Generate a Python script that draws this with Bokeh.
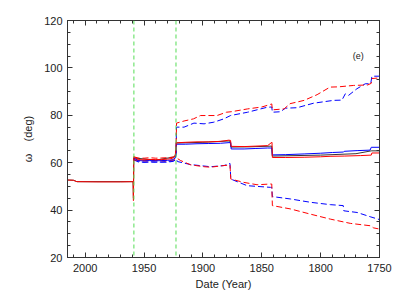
from bokeh.plotting import figure
from bokeh.models import Range1d, FixedTicker, LinearAxis, Span, Label
from bokeh.embed import file_html
from bokeh.resources import INLINE

# ---- data ----
x_ticks = [2000, 1950, 1900, 1850, 1800, 1750]
y_ticks = [20, 40, 60, 80, 100, 120]
event_years = [1958.6, 1922.85]
panel_tag = "(e)"

black_yr = [2015, 2010, 2007, 1959.3, 1959.0, 1958.7, 1940, 1923.5, 1922.6, 1900, 1877, 1876.2, 1860, 1841.5, 1841.1, 1800, 1770, 1757, 1750]
black_w = [52.7, 52.6, 52.0, 52.0, 45.0, 62.0, 61.1, 62.5, 68.3, 68.6, 69.2, 66.6, 66.7, 67.0, 62.8, 63.2, 63.8, 65.0, 65.0]

red_yr = [2015, 2010, 2007, 1990, 1970, 1959.3, 1959.0, 1958.7, 1955, 1950, 1945, 1940, 1935, 1930, 1926,
          1923.5, 1923.0, 1922.6, 1915, 1905, 1895, 1885, 1878, 1876.5, 1876.0, 1865, 1855, 1845, 1842.0,
          1841.3, 1841.0, 1830, 1814, 1800, 1792, 1780, 1766, 1757, 1756.5, 1750]
red_w = [52.7, 52.6, 52.0, 51.9, 51.9, 52.0, 44.0, 62.5, 61.3, 61.2, 61.4, 61.3, 61.3, 61.5, 61.8,
         63.0, 65.0, 68.4, 68.6, 68.8, 68.8, 69.0, 69.5, 69.4, 66.9, 66.8, 67.0, 67.2, 68.4,
         68.6, 62.2, 62.2, 62.3, 62.5, 62.7, 62.8, 63.0, 63.2, 64.1, 64.1]

blue_yr = [1958.8, 1955, 1950, 1945, 1940, 1935, 1930, 1926, 1923.5, 1922.8, 1922.4, 1915, 1905, 1895, 1885,
           1877, 1876.3, 1876.0, 1865, 1855, 1845, 1841.5, 1841.0, 1830, 1814, 1800, 1790, 1780.5, 1780,
           1769, 1758, 1757, 1750]
blue_w = [62.0, 60.9, 60.8, 60.9, 60.8, 60.9, 61.0, 61.2, 62.0, 63.5, 67.8, 67.8, 68.0, 68.1, 68.2,
          68.5, 68.5, 65.8, 65.8, 66.0, 66.2, 66.2, 63.3, 63.4, 63.7, 64.0, 64.3, 64.5, 64.8,
          65.1, 65.3, 66.5, 66.5]

red_up_yr = [1958.8, 1955, 1950, 1945, 1940, 1935, 1930, 1925, 1923.3, 1922.8, 1922.4, 1916, 1908, 1902, 1888,
             1880, 1876, 1862, 1850, 1842.6, 1841.5, 1841.0, 1831, 1826, 1814, 1803, 1792, 1785, 1772,
             1760, 1757, 1756.5, 1750]
red_up_w = [62.5, 62.0, 61.9, 62.1, 61.9, 62.0, 62.1, 62.4, 63.2, 65.0, 76.7, 77.6, 78.5, 79.9, 79.9,
            81.3, 81.5, 82.7, 83.5, 84.6, 84.8, 82.3, 82.7, 84.9, 86.3, 88.7, 91.9, 92.0, 92.6,
            92.8, 93.5, 95.5, 95.8]

blue_up_yr = [1958.8, 1955, 1950, 1945, 1940, 1935, 1930, 1925, 1923.3, 1922.8, 1922.4, 1916, 1907.6, 1899,
              1890.7, 1882.2, 1876.5, 1862, 1845.4, 1841.5, 1841.0, 1834, 1830, 1820, 1806, 1789, 1781.9,
              1779, 1776.3, 1769.2, 1762.1, 1757.5, 1756.4, 1750]
blue_up_w = [61.5, 60.3, 60.2, 60.4, 60.2, 60.3, 60.5, 60.8, 62.0, 64.0, 75.0, 75.0, 76.7, 76.4,
             77.1, 78.5, 79.9, 81.3, 83.4, 83.5, 81.3, 81.5, 83.0, 83.2, 85.1, 86.3, 86.4,
             89.1, 88.4, 91.2, 93.3, 93.3, 96.5, 96.5]

red_lo_yr = [1958.8, 1950, 1940, 1930, 1925, 1922.4, 1918.9, 1910.4, 1899, 1893.5, 1882, 1877, 1876.3, 1865.3,
             1854, 1842.6, 1841.5, 1841.0, 1825.7, 1808.7, 1791.8, 1774.8, 1757.9, 1755, 1750]
red_lo_w = [61.2, 60.8, 60.9, 60.8, 61.2, 62.0, 60.9, 59.1, 58.3, 58.1, 58.8, 59.0, 53.1, 51.7,
            50.7, 51.0, 51.0, 41.9, 40.5, 38.3, 36.2, 34.4, 33.4, 32.5, 32.0]

blue_lo_yr = [1958.8, 1950, 1940, 1930, 1925, 1922.4, 1921.7, 1910.4, 1893.5, 1882, 1877, 1876.3, 1862.4,
              1842.6, 1841.5, 1841.0, 1825.7, 1808.7, 1791.8, 1780.8, 1780.3, 1769, 1757.9, 1750]
blue_lo_w = [61.0, 60.2, 60.3, 60.2, 60.6, 61.5, 60.5, 59.2, 58.3, 58.8, 59.7, 53.1, 50.3,
             49.6, 49.6, 45.7, 44.7, 43.3, 42.3, 41.9, 39.7, 39.0, 37.2, 36.0]

# ---- figure ----
FONT = "Liberation Sans"
TXT = "#222222"

p = figure(width=399, height=299, output_backend="svg", toolbar_location=None,
           x_range=Range1d(2015, 1750), y_range=Range1d(20, 120),
           min_border_left=67, min_border_right=20, min_border_top=20, min_border_bottom=42)
p.background_fill_color = "white"
p.border_fill_color = "white"
p.grid.visible = False
p.outline_line_color = "#333333"

xt = FixedTicker(ticks=x_ticks, minor_ticks=list(range(1750, 2020, 10)))
yt = FixedTicker(ticks=y_ticks, minor_ticks=list(range(20, 125, 5)))

def style_axis(ax, ticker, labels=True):
    ax.ticker = ticker
    ax.axis_line_color = "#333333"
    ax.major_tick_line_color = "#333333"
    ax.minor_tick_line_color = "#333333"
    ax.major_tick_in = 5
    ax.major_tick_out = 0
    ax.minor_tick_in = 3
    ax.minor_tick_out = 0
    ax.major_label_text_font = FONT
    ax.major_label_text_color = TXT
    ax.major_label_text_font_size = "11px"
    ax.axis_label_text_font = FONT
    ax.axis_label_text_color = TXT
    ax.axis_label_text_font_size = "11px"
    ax.axis_label_text_font_style = "normal"
    if not labels:
        ax.major_label_overrides = {t: "" for t in ticker.ticks}
        ax.major_label_standoff = 0

style_axis(p.xaxis[0], xt)
style_axis(p.yaxis[0], yt)
p.xaxis[0].axis_label = "Date (Year)"
p.xaxis[0].major_label_standoff = 6
p.xaxis[0].axis_label_standoff = 3
p.yaxis[0].axis_label = "\u03c9\u00a0\u00a0\u00a0\u00a0(deg)"
p.yaxis[0].major_label_standoff = 5
p.yaxis[0].axis_label_standoff = 7

top = LinearAxis()
right = LinearAxis()
style_axis(top, xt, labels=False)
style_axis(right, yt, labels=False)
p.add_layout(top, "above")
p.add_layout(right, "right")

for yr in event_years:
    p.add_layout(Span(location=yr, dimension="height", line_color="#55dd55",
                      line_width=1, line_dash="4 3"))

DASH = "6 3"
p.line(black_yr, black_w, line_color="black", line_width=0.8)
p.line(blue_up_yr, blue_up_w, line_color="#0000ff", line_width=1, line_dash=DASH)
p.line(blue_lo_yr, blue_lo_w, line_color="#0000ff", line_width=1, line_dash=DASH)
p.line(red_up_yr, red_up_w, line_color="#ff0000", line_width=1, line_dash=DASH)
p.line(red_lo_yr, red_lo_w, line_color="#ff0000", line_width=1, line_dash=DASH)
p.line(blue_yr, blue_w, line_color="#0000ff", line_width=1)
p.line(red_yr, red_w, line_color="#ff0000", line_width=1)

p.add_layout(Label(x=1768, y=105, text=panel_tag, text_font=FONT, text_font_size="9px",
                   text_color=TXT, text_align="center", text_baseline="middle"))

open("out.html", "w").write(file_html(p, INLINE))
